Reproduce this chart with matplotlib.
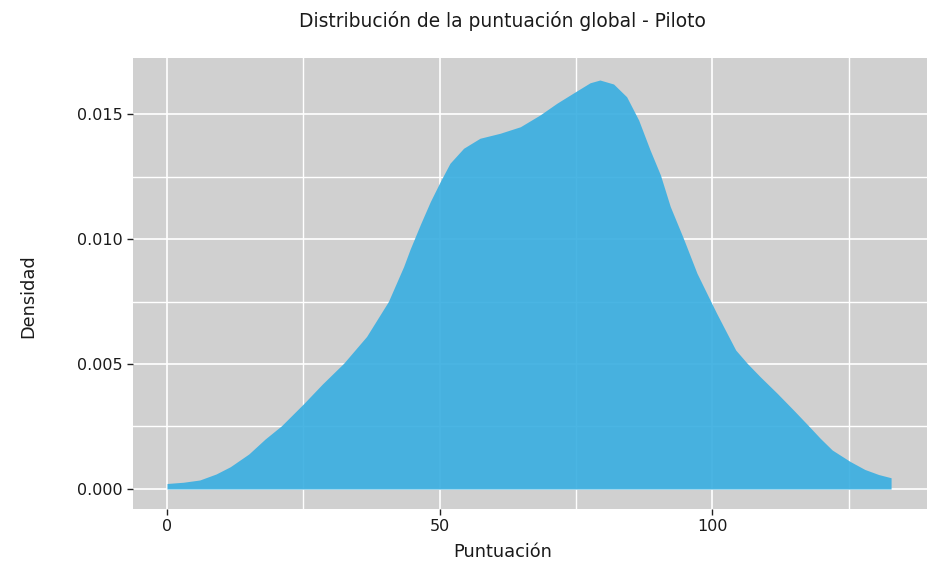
import matplotlib
matplotlib.use("Agg")
import matplotlib.pyplot as plt
from matplotlib.ticker import MultipleLocator, FormatStrFormatter

score = [0.0, 3.0, 6.0, 9.0, 11.6, 15.0, 18.0, 21.0, 25.0, 28.5, 32.4, 36.6, 40.6, 43.4,
         44.6, 46.5, 48.3, 50.1, 51.9, 54.4, 57.4, 61.1, 64.8, 68.4, 71.5, 75.2, 77.6,
         79.4, 81.9, 84.3, 86.5, 88.6, 90.5, 92.3, 94.7, 97.2, 99.6, 100.8, 102.7, 104.3,
         106.4, 108.8, 111.9, 114.9, 117.7, 119.8, 122.0, 125.3, 128.0, 130.5, 132.8]
density = [0.00022, 0.00027, 0.00036, 0.00060, 0.00089, 0.0014, 0.0020, 0.00253, 0.0034, 0.0042,
           0.00503, 0.0061, 0.0075, 0.0089, 0.0096, 0.0106, 0.0115, 0.01229, 0.01303, 0.01363,
           0.01403, 0.01423, 0.01449, 0.01496, 0.01543, 0.01593, 0.01625, 0.01636, 0.0162,
           0.01569, 0.01476, 0.01356, 0.01256, 0.0113, 0.01003, 0.00863, 0.00756, 0.00703,
           0.00623, 0.00556, 0.00503, 0.00449, 0.00383, 0.00316, 0.00252, 0.00203, 0.00156,
           0.0011, 0.00078, 0.00058, 0.00045]

title = "Distribución de la puntuación global - Piloto"
xlabel = "Puntuación"
ylabel = "Densidad"

plt.rcParams['font.family'] = ['DejaVu Sans']
fig = plt.figure(figsize=(9.28, 5.61), dpi=100)
ax = fig.add_axes([0.1433, 0.0927, 0.8557, 0.8039])
ax.set_facecolor('#D0D0D0')
for s in ax.spines.values():
    s.set_visible(False)

ax.fill_between(score, 0, density, color='#3BAFE1', alpha=0.92, linewidth=0, zorder=3)

ax.set_xlim(-6.24, 139.4)
ax.set_ylim(-0.0008, 0.01724)
ax.xaxis.set_major_locator(MultipleLocator(50))
ax.xaxis.set_minor_locator(MultipleLocator(25))
ax.yaxis.set_major_locator(MultipleLocator(0.005))
ax.yaxis.set_minor_locator(MultipleLocator(0.0025))
ax.yaxis.set_major_formatter(FormatStrFormatter('%.3f'))
ax.grid(which='major', color='white', linewidth=1.2, zorder=1)
ax.grid(which='minor', color='white', linewidth=1.0, zorder=1)
ax.set_axisbelow(True)
ax.tick_params(which='major', length=4.5, width=1, color='#222222', labelsize=11.5, labelcolor='#1a1a1a', pad=3)
ax.tick_params(which='minor', length=0)

fig.text(503 / 928, 1 - 552 / 561, xlabel, fontsize=12.8, ha='center', va='center', color='#1a1a1a')
fig.text(28 / 928, 1 - 296 / 561, ylabel, fontsize=12.8, ha='center', va='center', rotation=90, color='#1a1a1a')
fig.text(502 / 928, 1 - 21 / 561, title, fontsize=13.4, ha='center', va='center', color='#1a1a1a')

fig.savefig('out.png', dpi=100)
